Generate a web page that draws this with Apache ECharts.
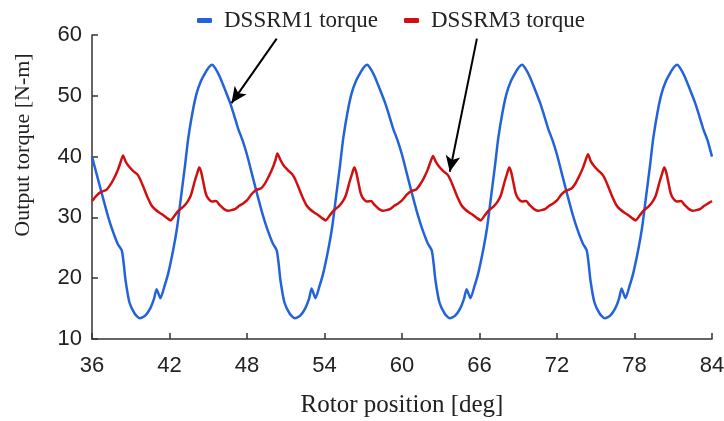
<!DOCTYPE html>
<html><head><meta charset="utf-8">
<script src="https://cdn.jsdelivr.net/npm/echarts@6/dist/echarts.min.js"></script>
<style>html,body{margin:0;padding:0;background:#fff}#c{width:724px;height:421px}</style>
</head><body><div id="c"></div><script>
const seriesNames = ['DSSRM1 torque', 'DSSRM3 torque'];
const xRange = [36, 84, 6];
const yRange = [10, 60, 10];
const xTitle = 'Rotor position [deg]';
const yTitle = 'Output torque [N-m]';

// [rotor position deg, torque N-m]
const dssrm1 = [
[36.0,40.0],[36.4,36.8],[36.8,33.6],[37.25,30.1],[37.6,27.8],[38.0,25.6],[38.3,24.6],[38.45,22.5],[38.6,19.6],[38.9,16.0],[39.3,14.2],[39.7,13.4],[40.1,13.8],[40.5,15.0],[40.8,16.6],[41.0,18.2],[41.3,16.7],[41.6,18.6],[41.9,20.8],[42.3,24.8],[42.6,28.5],[42.9,33.5],[43.2,38.5],[43.45,43.0],[43.8,47.5],[44.1,50.4],[44.45,52.5],[44.75,53.7],[45.05,54.7],[45.3,55.1],[45.55,54.5],[45.9,53.1],[46.3,51.0],[46.7,48.8],[47.0,46.8],[47.3,44.7],[47.65,42.7],
[48.0,40.3],[48.4,37.0],[48.8,33.7],[49.25,30.2],[49.6,27.9],[50.0,25.7],[50.3,24.6],[50.45,22.4],[50.6,19.5],[50.9,16.0],[51.3,14.2],[51.7,13.4],[52.1,13.8],[52.5,15.0],[52.8,16.6],[53.0,18.3],[53.3,16.7],[53.6,18.6],[53.9,20.8],[54.3,24.8],[54.6,28.5],[54.9,33.5],[55.2,38.5],[55.45,43.0],[55.8,47.5],[56.1,50.4],[56.45,52.5],[56.75,53.7],[57.05,54.7],[57.3,55.1],[57.55,54.5],[57.9,53.1],[58.3,51.0],[58.7,48.8],[59.0,46.8],[59.3,44.7],[59.65,42.7],
[60.0,40.3],[60.4,37.0],[60.8,33.7],[61.25,30.2],[61.6,27.9],[62.0,25.7],[62.3,24.6],[62.45,22.4],[62.6,19.5],[62.9,16.0],[63.3,14.2],[63.7,13.4],[64.1,13.8],[64.5,15.0],[64.8,16.6],[65.0,18.2],[65.3,16.7],[65.6,18.6],[65.9,20.8],[66.3,24.8],[66.6,28.5],[66.9,33.5],[67.2,38.5],[67.45,43.0],[67.8,47.5],[68.1,50.4],[68.45,52.5],[68.75,53.7],[69.05,54.7],[69.3,55.1],[69.55,54.5],[69.9,53.1],[70.3,51.0],[70.7,48.8],[71.0,46.8],[71.3,44.7],[71.65,42.7],
[72.0,40.3],[72.4,37.0],[72.8,33.7],[73.25,30.2],[73.6,27.9],[74.0,25.7],[74.3,24.6],[74.45,22.4],[74.6,19.5],[74.9,16.0],[75.3,14.2],[75.7,13.4],[76.1,13.8],[76.5,15.0],[76.8,16.6],[77.0,18.3],[77.3,16.7],[77.6,18.6],[77.9,20.8],[78.3,24.8],[78.6,28.5],[78.9,33.5],[79.2,38.5],[79.45,43.0],[79.8,47.5],[80.1,50.4],[80.45,52.5],[80.75,53.7],[81.05,54.7],[81.3,55.1],[81.55,54.5],[81.9,53.1],[82.3,51.0],[82.7,48.8],[83.0,46.8],[83.3,44.7],[83.65,42.7],[84.0,40.0]
];

const dssrm3 = [
[36.0,32.7],[36.35,33.6],[36.7,34.2],[37.1,34.5],[37.4,35.3],[37.7,36.4],[38.0,37.8],[38.2,39.0],[38.4,40.2],[38.6,39.2],[38.85,38.4],[39.2,37.6],[39.5,37.1],[39.7,36.4],[40.0,34.9],[40.3,33.3],[40.6,32.0],[40.9,31.3],[41.2,30.8],[41.5,30.4],[41.8,29.9],[42.1,29.5],[42.4,30.3],[42.7,31.1],[43.1,31.8],[43.4,32.6],[43.65,33.6],[43.95,35.9],[44.15,37.3],[44.3,38.2],[44.45,37.5],[44.6,36.0],[44.8,34.0],[45.0,33.1],[45.3,32.6],[45.6,32.7],[45.9,32.0],[46.2,31.4],[46.5,31.1],[46.8,31.2],[47.1,31.4],[47.4,31.9],[47.7,32.3],
[48.0,32.8],[48.35,33.8],[48.7,34.5],[49.1,34.8],[49.4,35.6],[49.7,36.8],[50.0,38.2],[50.2,39.4],[50.35,40.5],[50.6,39.4],[50.85,38.5],[51.2,37.7],[51.5,37.1],[51.7,36.4],[52.0,34.9],[52.3,33.3],[52.6,32.0],[52.9,31.3],[53.2,30.8],[53.5,30.4],[53.8,29.9],[54.1,29.5],[54.4,30.3],[54.7,31.1],[55.1,31.8],[55.4,32.6],[55.65,33.6],[55.95,35.9],[56.15,37.3],[56.3,38.2],[56.45,37.5],[56.6,36.0],[56.8,34.0],[57.0,33.1],[57.3,32.6],[57.6,32.7],[57.9,32.0],[58.2,31.4],[58.5,31.1],[58.8,31.2],[59.1,31.4],[59.4,31.9],[59.7,32.3],
[60.0,32.8],[60.35,33.7],[60.7,34.3],[61.1,34.6],[61.4,35.4],[61.7,36.5],[62.0,37.9],[62.2,39.1],[62.4,40.1],[62.6,39.2],[62.85,38.4],[63.2,37.6],[63.5,37.1],[63.7,36.4],[64.0,34.9],[64.3,33.3],[64.6,32.0],[64.9,31.3],[65.2,30.8],[65.5,30.4],[65.8,29.9],[66.1,29.5],[66.4,30.3],[66.7,31.1],[67.1,31.8],[67.4,32.6],[67.65,33.6],[67.95,35.9],[68.15,37.3],[68.3,38.2],[68.45,37.5],[68.6,36.0],[68.8,34.0],[69.0,33.1],[69.3,32.6],[69.6,32.7],[69.9,32.0],[70.2,31.4],[70.5,31.1],[70.8,31.2],[71.1,31.4],[71.4,31.9],[71.7,32.3],
[72.0,32.8],[72.35,33.8],[72.7,34.4],[73.1,34.7],[73.4,35.5],[73.7,36.7],[74.0,38.1],[74.2,39.3],[74.4,40.4],[74.6,39.3],[74.85,38.5],[75.2,37.7],[75.5,37.1],[75.7,36.4],[76.0,34.9],[76.3,33.3],[76.6,32.0],[76.9,31.3],[77.2,30.8],[77.5,30.4],[77.8,29.9],[78.1,29.5],[78.4,30.3],[78.7,31.1],[79.1,31.8],[79.4,32.6],[79.65,33.6],[79.95,35.9],[80.15,37.3],[80.3,38.2],[80.45,37.5],[80.6,36.0],[80.8,34.0],[81.0,33.1],[81.3,32.6],[81.6,32.7],[81.9,32.0],[82.2,31.4],[82.5,31.1],[82.8,31.2],[83.1,31.4],[83.4,31.9],[83.7,32.3],[84.0,32.7]
];

// annotation arrows [tail, head] in data units
const arrowDSSRM1 = [[50.3, 59.4], [46.8, 48.8]];
const arrowDSSRM3 = [[65.8, 59.4], [63.7, 37.5]];

const chart = echarts.init(document.getElementById('c'), null, {renderer: 'canvas'});
const axisColor = '#333';
const textColor = '#222';
const serif = '"Liberation Serif", "Times New Roman", serif';
const sans = '"Liberation Sans", Arial, sans-serif';
const option = {
  animation: false,
  backgroundColor: '#fff',
  grid: {left: 92, right: 12, top: 35, bottom: 82, containLabel: false, outerBoundsMode: 'none'},
  legend: {
    data: seriesNames,
    top: 4, left: 192,
    icon: 'roundRect', itemWidth: 15, itemHeight: 5, itemGap: 26,
    textStyle: {fontFamily: serif, fontSize: 23, color: textColor, padding: [0, 0, 0, 7]}
  },
  xAxis: {
    type: 'value', min: xRange[0], max: xRange[1], interval: xRange[2],
    axisLine: {lineStyle: {color: axisColor, width: 1.5}},
    axisTick: {inside: true, length: 6, lineStyle: {color: axisColor, width: 1.5}},
    splitLine: {show: false},
    axisLabel: {fontFamily: sans, fontSize: 22, color: textColor, margin: 16},
    name: xTitle, nameLocation: 'middle', nameGap: 54,
    nameTextStyle: {fontFamily: serif, fontSize: 25, color: textColor}
  },
  yAxis: {
    type: 'value', min: yRange[0], max: yRange[1], interval: yRange[2],
    axisLine: {show: true, lineStyle: {color: axisColor, width: 1.5}},
    axisTick: {show: true, inside: true, length: 6, lineStyle: {color: axisColor, width: 1.5}},
    splitLine: {show: false},
    axisLabel: {fontFamily: sans, fontSize: 22, color: textColor, margin: 10}
  },
  graphic: [{
    type: 'text', x: 23, y: 145, rotation: Math.PI / 2,
    style: {text: yTitle, fontFamily: serif, fontSize: 22, fill: textColor, align: 'center', verticalAlign: 'middle'}
  }],
  series: [
    {
      name: seriesNames[0], type: 'line', data: dssrm1, showSymbol: false, smooth: 0.2,
      lineStyle: {color: '#2363d9', width: 2.5}, itemStyle: {color: '#2363d9'},
      markLine: {
        silent: true, symbol: ['none', 'arrow'], symbolSize: [11, 16],
        label: {show: false},
        lineStyle: {color: '#000', width: 2, type: 'solid'},
        data: [
          [{coord: arrowDSSRM1[0]}, {coord: arrowDSSRM1[1]}],
          [{coord: arrowDSSRM3[0]}, {coord: arrowDSSRM3[1]}]
        ]
      }
    },
    {
      name: seriesNames[1], type: 'line', data: dssrm3, showSymbol: false, smooth: 0.2,
      lineStyle: {color: '#d01010', width: 2.5}, itemStyle: {color: '#d01010'}
    }
  ]
};
chart.setOption(option);
</script></body></html>
